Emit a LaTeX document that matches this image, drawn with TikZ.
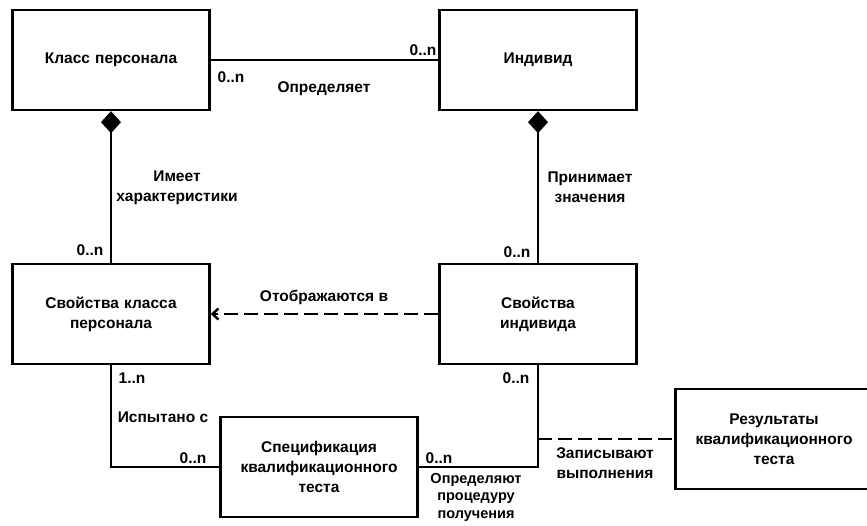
\documentclass[tikz,border=0pt]{standalone}
\usepackage{fontspec}
\setmainfont{Liberation Sans}
\usetikzlibrary{arrows.meta}

\begin{document}
\begin{tikzpicture}[x=1pt, y=-1pt, line width=2.4pt, font=\bfseries\fontsize{15.5}{20}\selectfont]
    \tikzstyle{box} = [rectangle, draw, minimum width=197pt, minimum height=100pt,
                       text width=185pt, align=center, inner sep=0pt]
    \tikzstyle{lbl} = [inner sep=0pt, align=center]
    \tikzstyle{dashline} = [dash pattern=on 14pt off 6pt]

    \useasboundingbox (0,0) rectangle (867,526);

    \node[box] (kp)  at (111, 60)  {Класс персонала};
    \node[box] (ind) at (538, 60)  {Индивид};
    \node[box] (spk) at (111, 314) {Свойства класса\\персонала};
    \node[box] (si)  at (538, 314) {Свойства\\индивида};
    \node[box] (spec) at (319, 467) {Спецификация\\квалификационного\\теста};
    \node[box] (res) at (774, 439) {Результаты\\квалификационного\\теста};

    \coordinate (zv) at (538, 439);

    \node[lbl] (m1) at (231, 77)  {0..n};
    \node[lbl] (m2) at (423, 50)  {0..n};
    \node[lbl] (t1) at (324, 89)  {Определяет};

    \node[lbl] (t2) at (177, 188) {Имеет\\характеристики};
    \node[lbl] (m3) at (90, 250)  {0..n};

    \node[lbl] (t3) at (590, 187) {Принимает\\значения};
    \node[lbl] (m4) at (517, 252) {0..n};

    \node[lbl] (t4) at (324, 297) {Отображаются в};

    \node[lbl] (m5) at (132, 378) {1..n};
    \node[lbl] (t5) at (163, 417) {Испытано с};
    \node[lbl] (m6) at (193, 458) {0..n};

    \node[lbl] (m7) at (439, 458) {0..n};
    \node[lbl] (m8) at (516, 378) {0..n};
    \node[lbl, font=\bfseries\fontsize{14.5}{17.5}\selectfont] (t6) at (476, 497)
        {Определяют\\процедуру\\получения};

    \node[lbl] (t7) at (605, 463) {Записывают\\выполнения};

    \draw [-] (kp) -- (ind);
    \draw [{Diamond[length=22pt,width=20pt]}-] (kp) -- (spk);
    \draw [{Diamond[length=22pt,width=20pt]}-] (ind) -- (si);
    \draw [dashline, -{Straight Barb[length=6pt,width=11pt]}] (si) -- (spk);
    \draw [-] (spk.south) |- (spec.west);
    \draw [-] (spec.east) -| (si.south);
    \draw [dashline] (zv) -- (res.west);
\end{tikzpicture}
\end{document}
